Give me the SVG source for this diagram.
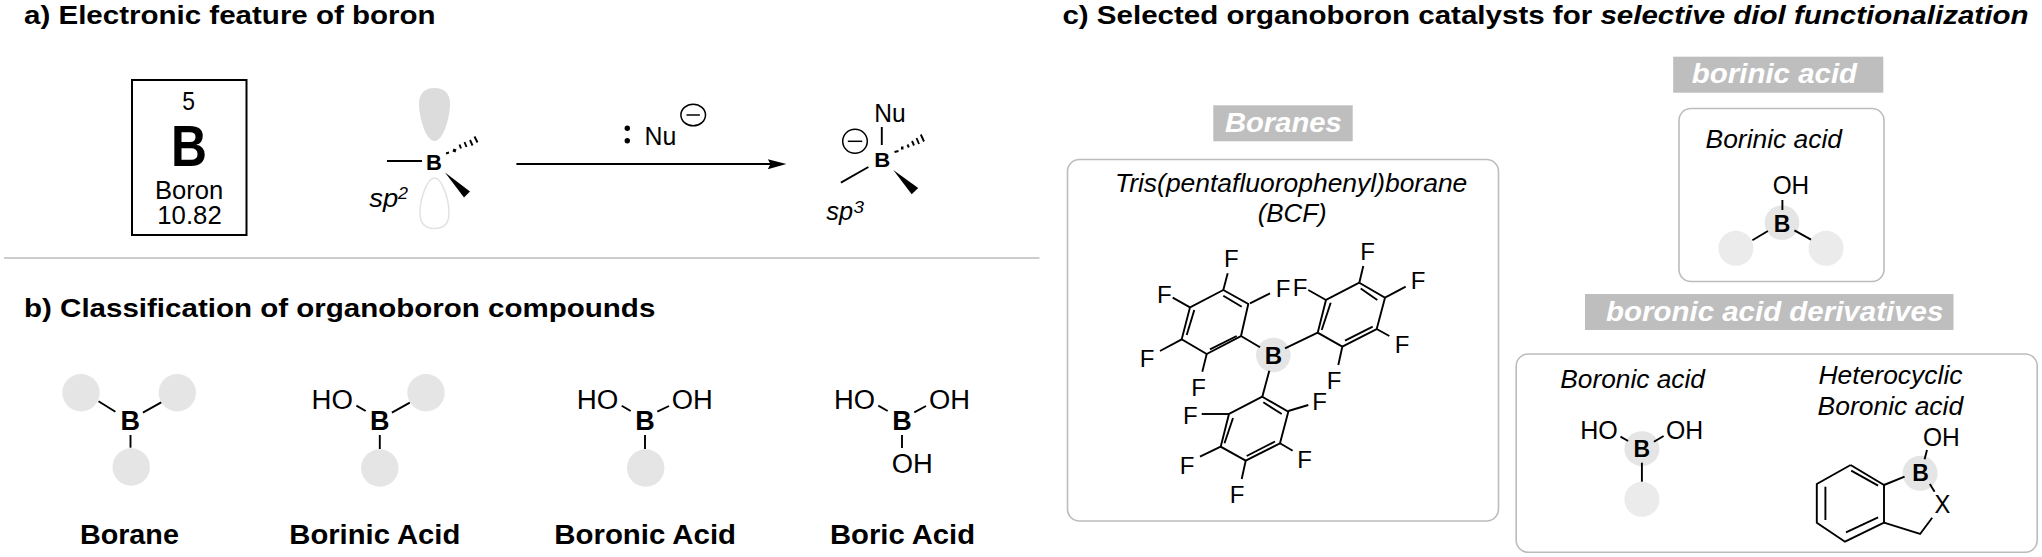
<svg xmlns="http://www.w3.org/2000/svg" width="2042" height="557" viewBox="0 0 2042 557">
<style>
text{font-family:"Liberation Sans",Arial,sans-serif;fill:#000}
.t{font-size:26.500px;font-weight:700}
.r{font-size:25px}
.o{font-size:27px}
.i{font-size:25px;font-style:italic}
.s{font-size:17px;font-style:italic}
.a{font-size:23px;font-weight:700;text-anchor:middle}
.b{font-size:27px;font-weight:700;text-anchor:middle}
.l{font-size:27.500px;font-weight:700}
.tag{font-size:27px;font-weight:700;font-style:italic;fill:#fff}
.f{font-size:24px;text-anchor:middle}
.box{fill:#fff;stroke:#bcbcbc;stroke-width:1.600}
.tagb{fill:#bebebe}
.c{fill:#e5e5e5}
.c2{fill:#ebebeb}
line,polyline,.k{stroke:#000;stroke-width:1.900;fill:none}
.wedge{fill:#000;stroke:none}
.thin{stroke-width:1.500}
</style>
<g id="titles">
<text class="t" transform="translate(24,24) scale(1.114,1)">a) Electronic feature of boron</text>
<text class="t" transform="translate(24,316.700) scale(1.114,1)">b) Classification of organoboron compounds</text>
<text class="t" transform="translate(1062.400,24) scale(1.114,1)">c) Selected organoboron catalysts for <tspan font-style="italic">selective diol functionalization</tspan></text>
</g>
<g id="connectors">
<line x1="4" y1="258" x2="1039.500" y2="258" style="stroke:#bdbdbd;stroke-width:1.600"/>
<line x1="516.400" y1="164" x2="772" y2="164"/>
<polygon points="786.400,164 767.800,159.300 770.500,164 767.800,169.300" fill="#000"/>
</g>
<g id="element-box">
<rect x="132" y="80" width="114.500" height="155" fill="#fff" stroke="#000" stroke-width="2"/>
<text class="r" x="182.300" y="110" textLength="12.700" lengthAdjust="spacingAndGlyphs">5</text>
<text x="171" y="166" font-size="57" font-weight="700" textLength="36" lengthAdjust="spacingAndGlyphs">B</text>
<text class="r" x="155" y="199" textLength="68.300" lengthAdjust="spacingAndGlyphs">Boron</text>
<text class="r" x="157.300" y="224" textLength="64.400" lengthAdjust="spacingAndGlyphs">10.82</text>
</g>
<g id="sp2-boron">
<path d="M419 104C419 92 426 88 434.500 88C443 88 450 92 450 104C450 118 443 141 434.500 141C426 141 419 118 419 104Z" fill="#dcdcdc"/>
<path d="M420 213C420 225 427 228.500 434.500 228.500C442 228.500 449 225 449 213C449 199 442 178 434.500 178C427 178 420 199 420 213Z" fill="#fff" stroke="#e2e2e2" stroke-width="1.500"/>
<text class="a" x="434" y="170" style="font-size:22px">B</text>
<line x1="387" y1="161" x2="422" y2="161"/>
<line x1="446" y1="153.500" x2="449" y2="152.500"/><line x1="453" y1="150" x2="456" y2="151" style="stroke-width:3"/><line x1="459.500" y1="144.500" x2="461" y2="148.500"/><line x1="464.500" y1="142" x2="466.500" y2="147"/><line x1="470" y1="140" x2="472.500" y2="145.500"/><line x1="474.500" y1="136.500" x2="477.500" y2="142.500"/>
<polygon class="wedge" points="445,172.500 470,191.500 464,197.500"/>
<text class="i" x="369.300" y="207" textLength="29" lengthAdjust="spacingAndGlyphs">sp</text>
<text class="s" x="398" y="199" textLength="10" lengthAdjust="spacingAndGlyphs">2</text>
</g>
<g id="nucleophile">
<circle cx="627.300" cy="128.300" r="2.700"/><circle cx="627.300" cy="140.700" r="2.700"/>
<text class="r" x="644.600" y="145" textLength="31.800" lengthAdjust="spacingAndGlyphs">Nu</text>
<ellipse class="k thin" cx="693.200" cy="115" rx="12.300" ry="10.800"/><line class="thin" x1="686.500" y1="115" x2="699.900" y2="115"/>
</g>
<g id="sp3-boron">
<text class="r" x="874.200" y="122" textLength="31.400" lengthAdjust="spacingAndGlyphs">Nu</text>
<line x1="881.800" y1="127" x2="881.800" y2="145"/>
<ellipse class="k thin" cx="855" cy="141.300" rx="12.300" ry="12"/><line class="thin" x1="847.800" y1="141.300" x2="862.200" y2="141.300"/>
<text x="874.200" y="167" font-size="20" font-weight="700" textLength="16" lengthAdjust="spacingAndGlyphs">B</text>
<line x1="868.400" y1="167" x2="840.900" y2="182.700"/>
<line x1="894.500" y1="152" x2="898.500" y2="151"/><line x1="901" y1="148" x2="903.500" y2="148" style="stroke-width:3"/><line x1="907.500" y1="144.500" x2="908.800" y2="147.500"/><line x1="912" y1="141" x2="914" y2="145.500"/><line x1="916.500" y1="138" x2="919" y2="144"/><line x1="920.800" y1="134.500" x2="924" y2="141.500"/>
<polygon class="wedge" points="893.300,170 918.200,188 911.700,194.300"/>
<text class="i" x="826.300" y="220" textLength="26.800" lengthAdjust="spacingAndGlyphs">sp</text>
<text class="s" x="853.500" y="212.500" textLength="10.500" lengthAdjust="spacingAndGlyphs">3</text>
</g>
<g id="borane">
<circle class="c" cx="81" cy="392.700" r="18.700"/><circle class="c" cx="177.300" cy="392.700" r="18.700"/><circle class="c" cx="131.200" cy="467" r="18.700"/>
<text class="b" x="130.300" y="430">B</text>
<line x1="98.500" y1="401.300" x2="115.400" y2="411.700"/><line x1="142.900" y1="412.700" x2="161.200" y2="402.300"/><line x1="130.500" y1="435" x2="130.500" y2="447.700"/>
<text class="l" x="79.900" y="544" textLength="99" lengthAdjust="spacingAndGlyphs">Borane</text>
</g>
<g id="borinic-acid">
<circle class="c" cx="426" cy="392.700" r="18.700"/><circle class="c" cx="379.800" cy="468" r="18.700"/>
<text class="o" x="311.600" y="409.300" textLength="41.400" lengthAdjust="spacingAndGlyphs">HO</text>
<text class="b" x="379.700" y="430">B</text>
<line x1="356.400" y1="405.700" x2="365.700" y2="411"/><line x1="391.900" y1="412.700" x2="409.800" y2="402.700"/><line x1="379.800" y1="435" x2="379.800" y2="449"/>
<text class="l" x="289.300" y="544" textLength="171" lengthAdjust="spacingAndGlyphs">Borinic Acid</text>
</g>
<g id="boronic-acid">
<circle class="c" cx="645.700" cy="468" r="18.700"/>
<text class="o" x="576.700" y="409.300" textLength="41.600" lengthAdjust="spacingAndGlyphs">HO</text><text class="o" x="671.700" y="409.300" textLength="41" lengthAdjust="spacingAndGlyphs">OH</text>
<text class="b" x="645" y="430">B</text>
<line x1="621.700" y1="405.700" x2="630.700" y2="411"/><line x1="657.300" y1="411.700" x2="669" y2="406"/><line x1="645" y1="435" x2="645" y2="449"/>
<text class="l" x="554.300" y="544" textLength="181.700" lengthAdjust="spacingAndGlyphs">Boronic Acid</text>
</g>
<g id="boric-acid">
<text class="o" x="834" y="409.300" textLength="41" lengthAdjust="spacingAndGlyphs">HO</text><text class="o" x="929" y="409.300" textLength="41" lengthAdjust="spacingAndGlyphs">OH</text><text class="o" x="891.700" y="473.300" textLength="41" lengthAdjust="spacingAndGlyphs">OH</text>
<text class="b" x="902" y="430">B</text>
<line x1="878.300" y1="405.700" x2="887.700" y2="411"/><line x1="914.300" y1="412.300" x2="926" y2="406"/><line x1="902" y1="435" x2="902" y2="448"/>
<text class="l" x="830" y="544" textLength="145" lengthAdjust="spacingAndGlyphs">Boric Acid</text>
</g>
<g id="boranes-panel">
<rect class="tagb" x="1213.300" y="105.300" width="139.400" height="36"/>
<text class="tag" x="1225" y="131.700" textLength="116.700" lengthAdjust="spacingAndGlyphs">Boranes</text>
<rect class="box" x="1067.500" y="159.500" width="431" height="361.500" rx="12"/>
<text class="i" x="1115" y="191.700" textLength="352.300" lengthAdjust="spacingAndGlyphs">Tris(pentafluorophenyl)borane</text>
<text class="i" x="1257.700" y="221.700" textLength="69" lengthAdjust="spacingAndGlyphs">(BCF)</text>
<circle class="c" cx="1273.300" cy="355" r="17.300"/>
<text class="a" x="1273.300" y="364" style="font-size:24px">B</text>
<polyline points="1223.300,290 1248.300,304 1241,336 1206.700,354 1181.700,339.300 1190,307.300 1223.300,290"/>
<line x1="1223.300" y1="295.700" x2="1241.700" y2="306.700"/><line x1="1210" y1="349.300" x2="1236.700" y2="336"/><line x1="1186.700" y1="335" x2="1194.300" y2="310"/>
<line x1="1241" y1="336" x2="1260" y2="347.300"/>
<line x1="1227.700" y1="273.300" x2="1223.300" y2="290"/><line x1="1250" y1="303.300" x2="1270" y2="293.300"/><line x1="1172.700" y1="297.700" x2="1190" y2="307.300"/><line x1="1160" y1="351" x2="1181.700" y2="339.300"/><line x1="1206.700" y1="354" x2="1202.300" y2="371.700"/>
<polyline points="1359.300,282.700 1385,297.700 1376.700,329 1342.300,346.700 1317.700,332.700 1326,300 1359.300,282.700"/>
<line x1="1360.700" y1="288.500" x2="1377.300" y2="300"/><line x1="1345" y1="340.700" x2="1372.700" y2="326.700"/><line x1="1321.700" y1="330" x2="1330.700" y2="302.700"/>
<line x1="1285" y1="348.300" x2="1317.700" y2="332.700"/>
<line x1="1363.300" y1="266" x2="1359.300" y2="282.700"/><line x1="1385" y1="297.700" x2="1405.700" y2="286.700"/><line x1="1326" y1="300" x2="1308.300" y2="290"/><line x1="1376.700" y1="329" x2="1389.300" y2="336"/><line x1="1342.300" y1="346.700" x2="1338.300" y2="365"/>
<polyline points="1262.300,396.700 1288.300,411.700 1280,443.300 1245.700,460.700 1220.700,446.700 1229,414 1262.300,396.700"/>
<line x1="1263.300" y1="402.300" x2="1281.700" y2="414"/><line x1="1246.700" y1="456" x2="1275" y2="441.500"/><line x1="1224.500" y1="443.300" x2="1233" y2="418"/>
<line x1="1269.300" y1="370.700" x2="1262.300" y2="396.700"/>
<line x1="1288.300" y1="411" x2="1308.300" y2="405"/><line x1="1229" y1="414" x2="1201.700" y2="414"/><line x1="1220.700" y1="446.700" x2="1200" y2="456.700"/><line x1="1280" y1="443.300" x2="1292.700" y2="450.700"/><line x1="1245.700" y1="460.700" x2="1241.700" y2="479"/>
<text class="f" x="1231.300" y="267.300">F</text><text class="f" x="1164.300" y="302.700">F</text><text class="f" x="1283" y="296.700">F</text><text class="f" x="1147.200" y="366.700">F</text><text class="f" x="1198.500" y="395.700">F</text>
<text class="f" x="1367.500" y="260">F</text><text class="f" x="1300" y="295.700">F</text><text class="f" x="1418" y="289.300">F</text><text class="f" x="1402" y="353.300">F</text><text class="f" x="1334.200" y="389">F</text>
<text class="f" x="1319.700" y="410">F</text><text class="f" x="1190.300" y="424">F</text><text class="f" x="1304.700" y="467.700">F</text><text class="f" x="1187" y="474">F</text><text class="f" x="1237.200" y="502.700">F</text>
</g>
<g id="borinic-panel">
<rect class="tagb" x="1673.200" y="56.700" width="210.100" height="36"/>
<text class="tag" x="1691.800" y="83.300" textLength="165.300" lengthAdjust="spacingAndGlyphs">borinic acid</text>
<rect class="box" x="1679" y="108.500" width="205" height="173" rx="12"/>
<text class="i" x="1705.600" y="148.300" textLength="136.400" lengthAdjust="spacingAndGlyphs">Borinic acid</text>
<circle class="c" cx="1782" cy="222.700" r="17.300"/><circle class="c2" cx="1735.900" cy="248.300" r="17.500"/><circle class="c2" cx="1826.100" cy="248.300" r="17.500"/>
<text class="r" x="1772.700" y="194.300" textLength="36.500" lengthAdjust="spacingAndGlyphs">OH</text>
<text class="a" x="1782" y="231.700">B</text>
<line x1="1782.400" y1="200" x2="1782.400" y2="210"/><line x1="1767.900" y1="231" x2="1752.400" y2="240.300"/><line x1="1794.400" y1="230.300" x2="1811" y2="239.700"/>
</g>
<g id="derivatives-panel">
<rect class="tagb" x="1585" y="294" width="368.500" height="36"/>
<text class="tag" x="1606" y="320.700" textLength="337.300" lengthAdjust="spacingAndGlyphs">boronic acid derivatives</text>
<rect class="box" x="1516.200" y="354" width="521" height="198.300" rx="12"/>
<text class="i" x="1560.300" y="387.700" textLength="144.600" lengthAdjust="spacingAndGlyphs">Boronic acid</text>
<circle class="c" cx="1641.900" cy="448.700" r="17.500"/><circle class="c2" cx="1641.900" cy="499.300" r="17.500"/>
<text class="r" x="1580.200" y="439.300" textLength="37.600" lengthAdjust="spacingAndGlyphs">HO</text><text class="r" x="1666" y="439.300" textLength="37.200" lengthAdjust="spacingAndGlyphs">OH</text>
<text class="a" x="1641.900" y="457.300">B</text>
<line x1="1620.500" y1="436.700" x2="1628.100" y2="441"/><line x1="1653.900" y1="441.700" x2="1663.600" y2="436"/><line x1="1641.900" y1="462.700" x2="1641.900" y2="481.700"/>
<text class="i" x="1818.500" y="384.300" textLength="144" lengthAdjust="spacingAndGlyphs">Heterocyclic</text>
<text class="i" x="1817.500" y="415" textLength="145.700" lengthAdjust="spacingAndGlyphs">Boronic acid</text>
<circle class="c" cx="1920.100" cy="473.300" r="17.500"/>
<text class="r" x="1922.900" y="446" textLength="36.800" lengthAdjust="spacingAndGlyphs">OH</text>
<text class="a" x="1920.500" y="481">B</text>
<text class="r" x="1934.600" y="513.300" textLength="15.800" lengthAdjust="spacingAndGlyphs">X</text>
<line x1="1927" y1="450" x2="1924.600" y2="459.300"/><line x1="1904.600" y1="476.700" x2="1884" y2="485"/>
<polyline points="1850.600,465 1884,485 1884,522.700 1845,541.700 1816.800,522.700 1816.800,484 1850.600,465"/>
<line x1="1851.200" y1="470.700" x2="1878.100" y2="485.700"/><line x1="1878.100" y1="517.300" x2="1846" y2="532.300"/><line x1="1825.400" y1="486.700" x2="1825.400" y2="520"/>
<polyline points="1884,522.700 1920.100,534 1932.200,517.700"/>
<line x1="1929.800" y1="484" x2="1934.600" y2="491.700"/>
</g>
</svg>
